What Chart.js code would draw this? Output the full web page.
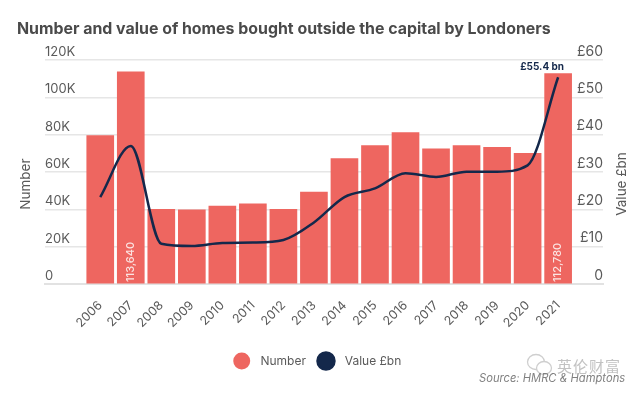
<!DOCTYPE html>
<html>
<head>
<meta charset="utf-8">
<title>Homes bought outside the capital by Londoners</title>
<script src="https://cdn.jsdelivr.net/npm/chart.js@4"></script>
<style>
    html, body { margin: 0; padding: 0; background: #fff; overflow: hidden; }
    #wrap { position: relative; width: 641px; height: 394px; }
    #source { position: absolute; left: 479px; top: 371px; font: italic 11.2px Inter, sans-serif; color: #808080; white-space: nowrap; }
    #mark { position: absolute; left: 557px; top: 355px; font: 15px "Noto Sans CJK SC", sans-serif; color: #c2c2c2; letter-spacing: 1px; white-space: nowrap; }
    #icon { position: absolute; left: 526px; top: 353px; }
</style>
</head>
<body>
<div id="wrap">
    <canvas id="chart" width="641" height="394"></canvas>
    <svg id="icon" width="28" height="24">
        <ellipse cx="10" cy="9" rx="8.5" ry="7.5" fill="#fff" stroke="#cfcfcf" stroke-width="1.3"/>
        <ellipse cx="18" cy="15" rx="7.5" ry="6.5" fill="#fff" stroke="#cfcfcf" stroke-width="1.3"/>
    </svg>
    <div id="mark">英伦财富</div>
    <div id="source">Source: HMRC &amp; Hamptons</div>
</div>

<script>
const years = [2006, 2007, 2008, 2009, 2010, 2011, 2012, 2013, 2014, 2015, 2016, 2017, 2018, 2019, 2020, 2021]
const numberOfHomes = [79500, 113640, 40000, 39700, 41700, 42900, 40000, 49300, 67200, 74200, 81100, 72400, 74200, 73300, 70000, 112780]
const valueBn = [23.3, 37, 10.8, 10.2, 11, 11.1, 11.8, 16.5, 23.3, 25.6, 29.7, 28.7, 30.1, 30.1, 31.8, 55.4]
const leftTicks = [0, 20000, 40000, 60000, 80000, 100000, 120000]
const rightTicks = [0, 10, 20, 30, 40, 50, 60]

const textColor = "#5a5a5a"
const barColor = "#ee6660"
const lineColor = "#14284b"
const fontName = "Inter, sans-serif"

// draws the few labels Chart.js has no option for
const extraText = {
    id: "extraText",
    afterDatasetsDraw(chart) {
        let ctx = chart.ctx
        let bars = chart.getDatasetMeta(1).data
        let bottom = chart.chartArea.bottom
        ctx.save()

        // bar values written up the 2007 and 2021 bars
        ctx.fillStyle = "#fbe3e1"
        ctx.font = "500 11px " + fontName
        ctx.textAlign = "left"
        ctx.textBaseline = "middle";
        [1, 15].forEach(i => {
            ctx.save()
            ctx.translate(bars[i].x, bottom - 2)
            ctx.rotate(-Math.PI / 2)
            ctx.fillText(numberOfHomes[i].toLocaleString("en-GB"), 0, 0)
            ctx.restore()
        })

        // callout above the last bar
        ctx.fillStyle = lineColor
        ctx.font = "700 10px " + fontName
        ctx.textAlign = "center"
        ctx.fillText("£55.4 bn", bars[15].x - 16, bars[15].y - 7)

        // axis titles sit a bit below the middle of the axes
        ctx.fillStyle = textColor
        ctx.font = "13.5px " + fontName
        ctx.textAlign = "center"
        let mid = (chart.chartArea.top + bottom) / 2 + 12
        ctx.save()
        ctx.translate(26, mid)
        ctx.rotate(-Math.PI / 2)
        ctx.fillText("Number", 0, 0)
        ctx.restore()
        ctx.save()
        ctx.translate(622, mid)
        ctx.rotate(-Math.PI / 2)
        ctx.fillText("Value £bn", 0, 0)
        ctx.restore()

        ctx.restore()
    }
}

new Chart(document.getElementById("chart"), {
    type: "bar",
    plugins: [extraText],
    data: {
        labels: years,
        datasets: [
            {
                type: "line",
                label: "Value £bn",
                data: valueBn,
                yAxisID: "yRight",
                borderColor: lineColor,
                backgroundColor: lineColor,
                borderWidth: 2.5,
                pointRadius: 0,
                cubicInterpolationMode: "monotone",
                order: 0
            },
            {
                label: "Number",
                data: numberOfHomes,
                yAxisID: "yLeft",
                backgroundColor: barColor,
                barThickness: 27,
                order: 1
            }
        ]
    },
    options: {
        responsive: false,
        animation: false,
        layout: { padding: { left: 17, right: 21, top: 20, bottom: 17 } },
        plugins: {
            title: {
                display: true,
                text: "Number and value of homes bought outside the capital by Londoners",
                align: "start",
                color: "#4a4a4a",
                font: { family: fontName, size: 15.9, weight: "700" },
                padding: { top: 0, bottom: 21 }
            },
            legend: {
                position: "bottom",
                reverse: true,
                labels: {
                    usePointStyle: true,
                    pointStyle: "circle",
                    boxHeight: 12,
                    boxWidth: 12,
                    padding: 14,
                    color: textColor,
                    font: { family: fontName, size: 12 },
                    generateLabels: chart => {
                        // two leading spaces push the text away from the circle
                        let items = Chart.defaults.plugins.legend.labels.generateLabels(chart)
                        items.forEach(item => { item.text = "  " + item.text })
                        return items
                    }
                }
            },
            tooltip: { enabled: false }
        },
        scales: {
            x: {
                type: "linear",
                offset: false,
                min: 2004.19,
                max: 2022.47,
                afterBuildTicks: scale => { scale.ticks = years.map(y => ({ value: y })) },
                afterFit: scale => { scale.height = 57 },
                grid: { display: false },
                border: { color: "#e2e2e2", width: 2 },
                ticks: {
                    autoSkip: false,
                    minRotation: 45,
                    maxRotation: 45,
                    padding: 6,
                    color: textColor,
                    font: { family: fontName, size: 12.5 },
                    callback: v => String(v)
                }
            },
            yLeft: {
                position: "left",
                min: 0,
                max: 120000,
                afterBuildTicks: scale => { scale.ticks = leftTicks.map(v => ({ value: v })) },
                afterFit: scale => { scale.width = 28 },
                grid: { color: "#e6e6e6", lineWidth: 1.5, drawTicks: false },
                border: { display: false },
                ticks: {
                    mirror: true,
                    padding: 0,
                    labelOffset: -8,
                    color: textColor,
                    font: { family: fontName, size: 13 },
                    callback: v => v === 0 ? "0" : (v / 1000) + "K"
                }
            },
            yRight: {
                position: "right",
                min: 0,
                max: 60,
                afterBuildTicks: scale => { scale.ticks = rightTicks.map(v => ({ value: v })) },
                afterFit: scale => { scale.width = 17 },
                grid: { display: false },
                border: { display: false },
                ticks: {
                    mirror: true,
                    padding: 0,
                    labelOffset: -8.5,
                    color: textColor,
                    font: { family: fontName, size: 14 },
                    callback: v => v === 0 ? "0" : "£" + v
                }
            }
        }
    }
})
</script>
</body>
</html>
